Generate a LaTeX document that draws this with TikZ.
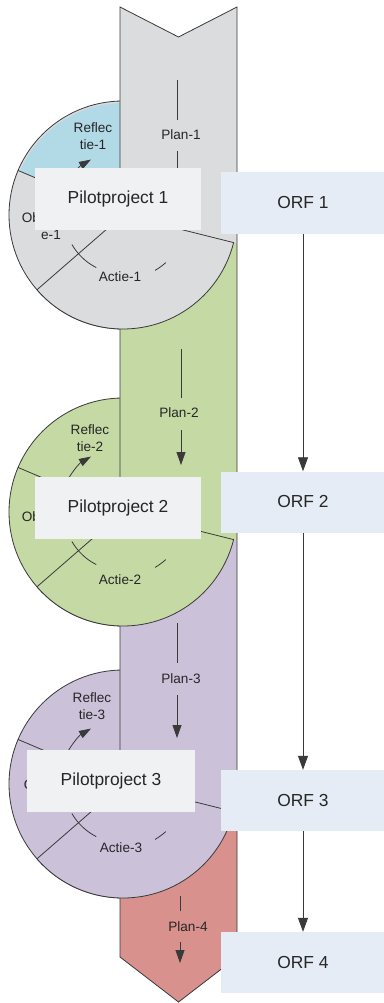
\documentclass[tikz,border=0pt]{standalone}
\usepackage{fontspec}
\setmainfont{Liberation Sans}
\usetikzlibrary{arrows.meta,calc}

\definecolor{bandgray}{HTML}{DBDCDE}
\definecolor{refblue}{HTML}{B1DAE6}
\definecolor{plangreen}{HTML}{C5D9A4}
\definecolor{planpurple}{HTML}{CBC2DA}
\definecolor{planred}{HTML}{D9918D}
\definecolor{pilotfill}{HTML}{F0F1F3}
\definecolor{orffill}{HTML}{E6ECF5}
\definecolor{ink}{HTML}{3A3A3A}
\definecolor{txt}{HTML}{262626}

\begin{document}
\begin{tikzpicture}[x=1pt,y=1pt,
  outline/.style={draw=ink, line width=0.8pt},
  cyc/.style={draw=ink, line width=0.8pt},
  tip/.style={-{Triangle[length=13pt,width=9pt]}},
  smalltip/.style={-{Triangle[length=12pt,width=8pt]}},
  lbl/.style={text=txt, font=\fontsize{13.6}{17}\selectfont, align=center, inner sep=0pt},
  pilot/.style={fill=pilotfill, text=txt, font=\fontsize{17.4}{20}\selectfont,
    minimum width=166pt, minimum height=62pt, inner sep=0pt},
  orf/.style={fill=orffill, text=txt, font=\fontsize{17.4}{20}\selectfont,
    minimum width=164pt, minimum height=61pt, inner sep=0pt},
]
% canvas
\fill[white] (0,0) rectangle (383,-1003);
\path[use as bounding box] (0,0) rectangle (383,-1003);

% cycle discs: reflection and observation sectors (lying under the band)
\foreach \cy/\ca/\cb in {215/bandgray/refblue,512/plangreen/plangreen,784/planpurple/planpurple}{
  \filldraw[fill=\ca, outline] (123,-\cy) circle[radius=114];
  \fill[\cb] (123,-\cy) -- ++(90:112) arc[start angle=90,end angle=157,radius=112] -- cycle;
  \draw[outline] (123,-\cy) -- ++(157:114);
}

% the long process band with its coloured stages
\begin{scope}
  \clip (120,-7) -- (178.5,-37) -- (237,-7) -- (237,-957) -- (178.5,-1002) -- (120,-957) -- cycle;
  \fill[bandgray]   (110,0)    rectangle (250,-243);
  \fill[plangreen]  (110,-243) rectangle (250,-540);
  \fill[planpurple] (110,-540) rectangle (250,-812);
  \fill[planred]    (110,-812) rectangle (250,-1010);
\end{scope}
\draw[outline, line join=miter] (120,-7) -- (178.5,-37) -- (237,-7) -- (237,-957)
  -- (178.5,-1002) -- (120,-957) -- cycle;

% action sectors, lying over the band
\foreach \cy/\ca in {215/bandgray,512/plangreen,784/planpurple}{
  \filldraw[fill=\ca, outline] (123,-\cy) -- ++(221:114)
    arc[start angle=221,end angle=346,radius=114] -- cycle;
}

% inner cycle arrows
\foreach \cy in {215,512,784}{
  \draw[cyc, smalltip] (123,-\cy) ++(155:64) arc[start angle=155,end angle=120,radius=64];
  \draw[cyc] (123,-\cy) ++(210:59) arc[start angle=210,end angle=243,radius=59];
  \draw[cyc] (123,-\cy) ++(-60:64) arc[start angle=-60,end angle=-48,radius=64];
}

% stage labels
\node[lbl] (refl1) at (93,-136)  {Reflec\\tie-1};
\node[lbl] (obs1)  at (51,-226)  {Observati\\e-1};
\node[lbl] (act1)  at (120,-277) {Actie-1};
\node[lbl] (plan1) at (181,-135) {Plan-1};

\node[lbl] (refl2) at (90,-438.5) {Reflec\\tie-2};
\node[lbl] (obs2)  at (51,-525)   {Observati\\e-2};
\node[lbl] (act2)  at (120,-580)  {Actie-2};
\node[lbl] (plan2) at (179,-413)  {Plan-2};

\node[lbl] (refl3) at (92,-706)  {Reflec\\tie-3};
\node[lbl] (obs3)  at (53,-793)  {Observati\\e-3};
\node[lbl] (act3)  at (121,-848) {Actie-3};
\node[lbl] (plan3) at (181,-679) {Plan-3};

\node[lbl] (plan4) at (188,-927) {Plan-4};

% plan arrows running down the band
\coordinate (p1a) at (177,-80);  \coordinate (p1b) at (177,-120);
\coordinate (p1c) at (177,-151); \coordinate (p1d) at (177,-192);
\coordinate (p2a) at (181,-349); \coordinate (p2b) at (181,-398);
\coordinate (p2c) at (181,-430); \coordinate (p2d) at (181,-465);
\coordinate (p3a) at (177,-623); \coordinate (p3b) at (177,-663);
\coordinate (p3c) at (177,-695); \coordinate (p3d) at (177,-738);
\coordinate (p4a) at (180,-896); \coordinate (p4b) at (180,-911);
\coordinate (p4c) at (180,-942); \coordinate (p4d) at (180,-963);
\draw[cyc] (p1a) -- (p1b); \draw[cyc, tip] (p1c) -- (p1d);
\draw[cyc] (p2a) -- (p2b); \draw[cyc, tip] (p2c) -- (p2d);
\draw[cyc] (p3a) -- (p3b); \draw[cyc, tip] (p3c) -- (p3d);
\draw[cyc] (p4a) -- (p4b); \draw[cyc, tip] (p4c) -- (p4d);

% pilot project titles
\node[pilot] (pp1) at (118,-199)   {Pilotproject 1};
\node[pilot] (pp2) at (118,-507.5) {Pilotproject 2};
\node[pilot, minimum width=168pt] (pp3) at (111,-780.5) {Pilotproject 3};

% ORF chain
\node[orf] (orf1) at (303,-203)   {ORF 1};
\node[orf] (orf2) at (303,-502)   {ORF 2};
\node[orf] (orf3) at (303,-800.5) {ORF 3};
\node[orf] (orf4) at (303,-962.5) {ORF 4};
\draw[cyc, -{Triangle[length=14pt,width=10pt]}] (orf1) -- (orf2);
\draw[cyc, -{Triangle[length=14pt,width=10pt]}] (orf2) -- (orf3);
\draw[cyc, -{Triangle[length=14pt,width=10pt]}] (orf3) -- (orf4);
\end{tikzpicture}
\end{document}
